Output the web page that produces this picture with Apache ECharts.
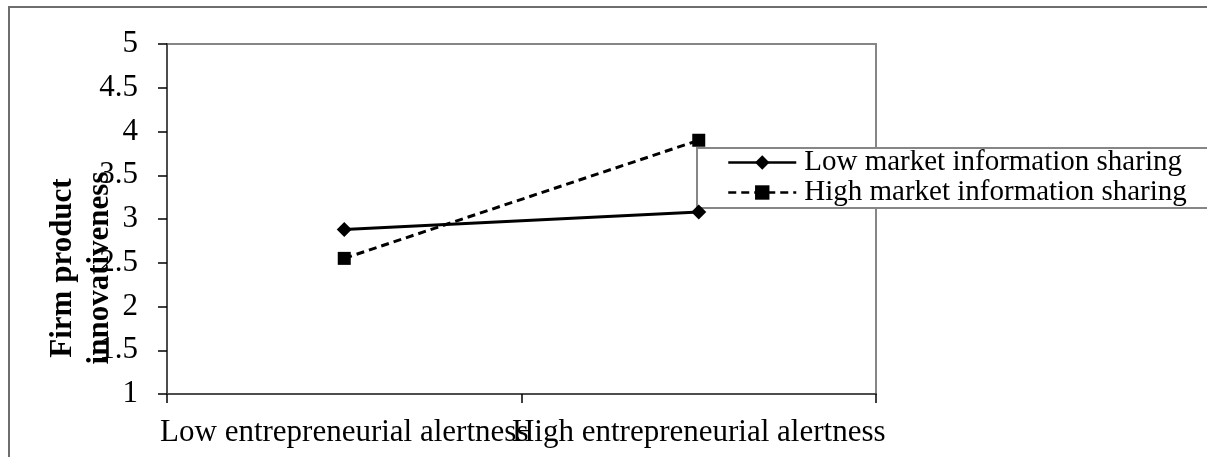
<!DOCTYPE html>
<html>
<head>
<meta charset="utf-8">
<script src="https://cdn.jsdelivr.net/npm/echarts@6/dist/echarts.min.js"></script>
<style>
  html, body { margin: 0; padding: 0; background: #fff; }
  #chart { width: 1207px; height: 457px; }
</style>
</head>
<body>
<div id="chart"></div>
<script>
const categories = ['Low entrepreneurial alertness', 'High entrepreneurial alertness']
const seriesNames = ['Low market information sharing', 'High market information sharing']
const lowSharing = [2.88, 3.08]
const highSharing = [2.55, 3.9]
const yTicks = { min: 1, max: 5, interval: 0.5 }
const yTitle = ['Firm product', 'innovativeness']

const serif = "'Liberation Serif', 'Times New Roman', serif"

const chart = echarts.init(document.getElementById('chart'), null, { renderer: 'canvas' })

chart.setOption({
  animation: false,
  backgroundColor: '#fff',
  grid: {
    left: 167, right: 331, top: 44, bottom: 63,
    show: true, borderColor: '#868686', borderWidth: 2, backgroundColor: 'transparent',
  },
  xAxis: {
    type: 'category',
    data: categories,
    boundaryGap: true,
    axisLine: { lineStyle: { color: '#4d4d4d', width: 2 } },
    axisTick: { show: true, length: 9, lineStyle: { color: '#000', width: 1.5 } },
    axisLabel: {
      color: '#000', fontFamily: serif, fontSize: 31, margin: 23,
      interval: 0, hideOverlap: false,
    },
    splitLine: { show: false },
  },
  yAxis: {
    type: 'value',
    min: yTicks.min,
    max: yTicks.max,
    interval: yTicks.interval,
    axisLine: { show: true, lineStyle: { color: '#4d4d4d', width: 2 } },
    axisTick: { show: true, length: 9, lineStyle: { color: '#000', width: 1.5 } },
    axisLabel: { color: '#000', fontFamily: serif, fontSize: 31, margin: 29 },
    splitLine: { show: false },
  },
  legend: {
    orient: 'vertical',
    left: 727,
    top: 148,
    itemWidth: 68,
    itemHeight: 18,
    itemGap: 1,
    padding: 0,
    z: 6,
    lineStyle: { width: 2.5 },
    textStyle: { color: '#000', fontFamily: serif, fontSize: 29, padding: [0, 0, 0, 3] },
    data: seriesNames,
  },
  graphic: [
    {
      type: 'rect',
      shape: { x: 9, y: 7, width: 1220, height: 480 },
      style: { fill: 'none', stroke: '#6e6e6e', lineWidth: 2 },
      silent: true,
      z: -1,
    },
    {
      type: 'rect',
      shape: { x: 697, y: 148, width: 530, height: 60 },
      style: { fill: '#fff', stroke: '#868686', lineWidth: 2 },
      silent: true,
      z: 2,
    },
    {
      type: 'text',
      x: 63,
      y: 268,
      rotation: Math.PI / 2,
      style: {
        text: yTitle[0], fill: '#000', font: `bold 31px ${serif}`,
        textAlign: 'center', textVerticalAlign: 'middle',
      },
      z: 10,
    },
    {
      type: 'text',
      x: 100,
      y: 268,
      rotation: Math.PI / 2,
      style: {
        text: yTitle[1], fill: '#000', font: `bold 31px ${serif}`,
        textAlign: 'center', textVerticalAlign: 'middle',
      },
      z: 10,
    },
  ],
  series: [
    {
      name: seriesNames[0],
      type: 'line',
      data: lowSharing,
      symbol: 'diamond',
      symbolSize: 15,
      itemStyle: { color: '#000' },
      lineStyle: { color: '#000', width: 3, type: 'solid' },
      z: 3,
    },
    {
      name: seriesNames[1],
      type: 'line',
      data: highSharing,
      symbol: 'rect',
      symbolSize: 13,
      itemStyle: { color: '#000' },
      lineStyle: { color: '#000', width: 3, type: [8, 5] },
      z: 3,
    },
  ],
})
</script>
</body>
</html>
